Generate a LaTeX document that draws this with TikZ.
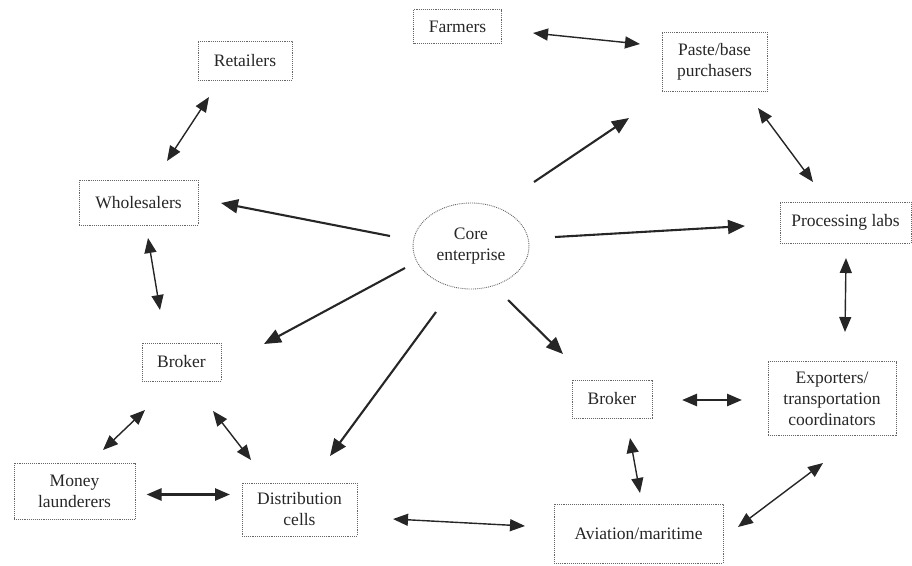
\documentclass[tikz,border=0pt]{standalone}
\usepackage{fontspec}
\setmainfont{Liberation Serif}
\usetikzlibrary{arrows.meta,calc,shapes.geometric}
\begin{document}
\begin{tikzpicture}[x=1pt,y=-1pt,
  box/.style={draw=black!60, densely dotted, line width=0.9pt, align=center,
    font=\fontsize{17.5}{21}\selectfont, text=black!85, inner sep=0pt},
  sarr/.style={-{Triangle[length=17pt,width=14pt]}, line width=2.1pt, draw=black!85, fill=black!85},
  darr/.style={{Triangle[length=15pt,width=12pt]}-{Triangle[length=15pt,width=12pt]}, line width=1.4pt, draw=black!85, fill=black!85},
  darrb/.style={darr, line width=2.6pt}]
\useasboundingbox (0,0) rectangle (912,565);
% nodes
\node[box, minimum width=88pt, minimum height=34pt] (farm) at (457.5,26.5) {Farmers};
\node[box, minimum width=105pt, minimum height=59pt] (paste) at (714.5,61.5) {Paste/base\\purchasers};
\node[box, minimum width=94pt, minimum height=39pt] (ret) at (245,60.5) {Retailers};
\node[box, minimum width=119pt, minimum height=45pt] (whole) at (138.5,202.5) {Wholesalers};
\node[box, ellipse, minimum width=116pt, minimum height=86pt] (core) at (471,246) {Core\\enterprise};
\node[box, minimum width=131pt, minimum height=41pt] (proc) at (845.5,222.5) {Processing labs};
\node[box, minimum width=79pt, minimum height=38pt] (brl) at (181.5,362) {Broker};
\node[box, minimum width=80pt, minimum height=38pt] (brr) at (612,399) {Broker};
\node[box, minimum width=128pt, minimum height=74pt] (exp) at (832,398.5) {Exporters/\\transportation\\coordinators};
\node[box, minimum width=121pt, minimum height=56pt] (money) at (74.5,491) {Money\\launderers};
\node[box, minimum width=115pt, minimum height=53pt] (dist) at (299.5,509.5) {Distribution\\cells};
\node[box, minimum width=169pt, minimum height=59pt] (avi) at (638.5,533.5) {Aviation/maritime};
% connectors
\draw[darr] ($(farm)+(75.5,6.5)$) -- ($(paste)+(-74.5,-17.5)$);
\draw[sarr] ($(core)+(63,-64)$) -- ($(paste)+(-85.5,56.5)$);
\draw[darr] ($(paste)+(43.5,46.5)$) -- ($(proc)+(-32.5,-40.5)$);
\draw[sarr] ($(core)+(84,-9)$) -- ($(proc)+(-100.5,3.5)$);
\draw[darr] ($(proc)+(0.5,35.5)$) -- ($(exp)+(13,-66.5)$);
\draw[sarr] ($(core)+(37,54)$) -- ($(brr)+(-49,-45)$);
\draw[darrb] ($(brr)+(70,1)$) -- ($(exp)+(-90,1.5)$);
\draw[darr] ($(brr)+(18,39)$) -- ($(avi)+(1.5,-40.5)$);
\draw[darr] ($(exp)+(-9,64.5)$) -- ($(avi)+(99.5,-6.5)$);
\draw[darr] ($(dist)+(93.5,9.5)$) -- ($(avi)+(-113.5,-7.5)$);
\draw[sarr] ($(core)+(-35,66)$) -- ($(dist)+(30.5,-53.5)$);
\draw[sarr] ($(core)+(-66,22)$) -- ($(brl)+(82.5,-18)$);
\draw[sarr] ($(core)+(-81,-10)$) -- ($(whole)+(82.5,0.5)$);
\draw[darr] ($(ret)+(-36,36.5)$) -- ($(whole)+(28.5,-41.5)$);
\draw[darr] ($(whole)+(9.5,35.5)$) -- ($(brl)+(-21.5,-52)$);
\draw[darr] ($(brl)+(-36.5,48)$) -- ($(money)+(28.5,-41)$);
\draw[darr] ($(brl)+(31.5,49)$) -- ($(dist)+(-48.5,-49.5)$);
\draw[darrb] ($(money)+(72,3.5)$) -- ($(dist)+(-69.5,-15)$);
\end{tikzpicture}
\end{document}
